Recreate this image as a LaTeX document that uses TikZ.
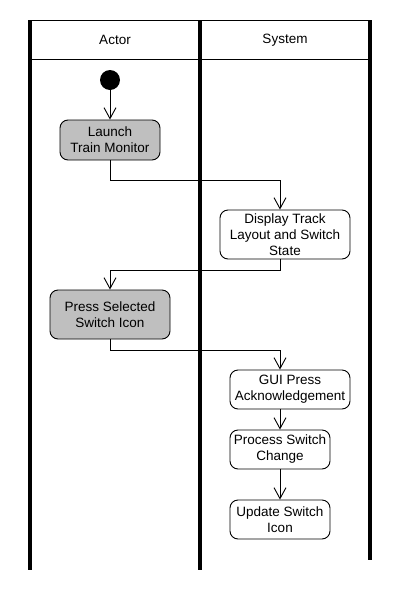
\documentclass[tikz,border=0pt]{standalone}
\usepackage{fontspec}
\setmainfont{Liberation Sans}
\usetikzlibrary{arrows.meta}
\begin{document}
\begin{tikzpicture}[x=1pt, y=-1pt, font=\fontsize{13.5}{16}\selectfont,
  act/.style={draw=black, line width=0.9pt, rounded corners=8pt, align=center, inner sep=0pt},
  actgray/.style={act, fill=black!25},
  flow/.style={line width=0.9pt, -{Straight Barb[length=11pt, width=12pt]}},
  lane/.style={line width=4pt}]
  % Two swimlanes, Actor on the left and System on the right; the flow zig-zags
  % between them and then runs down the System lane to the last step.
  \useasboundingbox[fill=white] (0,0) rectangle (400,590);
  \draw[line width=0.9pt] (30,20) -- (370,20);
  \draw[line width=0.9pt] (30,59) -- (370,59);
  \draw[lane] (30,20) -- (30,570);
  \draw[lane] (200,20) -- (200,570);
  \draw[lane] (370,20) -- (370,560);
  \node (actor) at (115,40) {Actor};
  \node (system) at (285,40) {System};
  \node[circle, fill=black, minimum size=20pt, inner sep=0pt] (start) at (110,80) {};
  \node[actgray, minimum width=100pt, minimum height=40pt] (launch) at (110,140) {Launch\\Train Monitor};
  \node[act, minimum width=130pt, minimum height=49pt] (display) at (285,234.5) {Display Track\\Layout and Switch\\State};
  \node[actgray, minimum width=120pt, minimum height=49pt] (press) at (110,314.5) {Press Selected\\Switch Icon};
  \node[act, minimum width=120pt, minimum height=39pt] (gui) at (290,389.5) {GUI Press\\Acknowledgement};
  \node[act, minimum width=100pt, minimum height=39pt] (proc) at (280,449.5) {Process Switch\\Change};
  \node[act, minimum width=100pt, minimum height=39pt] (upd) at (280,519.5) {Update Switch\\Icon};
  \draw[flow] (start) -- (launch);
  \draw[flow] (launch.south) -- ++(0,20) -| (display.north -| proc.north);
  \draw[flow] (display.south -| proc.north) -- ++(0,11) -| (press.north);
  \draw[flow] (press.south) -- ++(0,11) -| (gui.north -| proc.north);
  \draw[flow] (gui.south -| proc.north) -- (proc.north);
  \draw[flow] (proc) -- (upd);
\end{tikzpicture}
\end{document}
